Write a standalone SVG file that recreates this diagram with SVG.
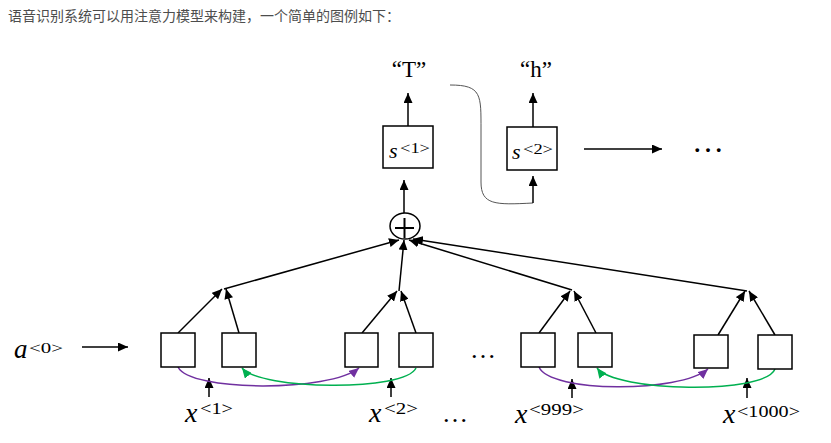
<svg xmlns="http://www.w3.org/2000/svg" width="831" height="443" viewBox="0 0 831 443">
<style>
.box{fill:#fff;stroke:#000;stroke-width:1.5}
.ar{fill:none;stroke:#000;stroke-width:1.5;marker-end:url(#ah)}
.pu{fill:none;stroke:#7030A0;stroke-width:1.5;marker-end:url(#ahp)}
.gr{fill:none;stroke:#00B050;stroke-width:1.5;marker-end:url(#ahg)}
.it{font-family:"Liberation Serif","DejaVu Serif",serif;font-style:italic;fill:#000}
.sup{font-family:"Liberation Serif","DejaVu Serif",serif;fill:#000}
.q{font-family:"Liberation Serif","DejaVu Serif",serif;font-size:23px;fill:#000;text-anchor:middle}
.dots{font-family:"Liberation Serif","DejaVu Serif",serif;fill:#000;text-anchor:middle}
</style>
<defs>
<marker id="ah" markerUnits="userSpaceOnUse" markerWidth="11" markerHeight="9" refX="10" refY="4.5" orient="auto"><path d="M0,0 L10,4.5 L0,9 z" fill="#000"/></marker>
<marker id="ahp" markerUnits="userSpaceOnUse" markerWidth="11" markerHeight="9" refX="10" refY="4.5" orient="auto"><path d="M0,0 L10,4.5 L0,9 z" fill="#7030A0"/></marker>
<marker id="ahg" markerUnits="userSpaceOnUse" markerWidth="11" markerHeight="9" refX="10" refY="4.5" orient="auto"><path d="M0,0 L10,4.5 L0,9 z" fill="#00B050"/></marker>
</defs>
<rect width="831" height="443" fill="#fff"/>
<text x="8" y="21" font-family="'Noto Sans CJK SC','Noto Sans',sans-serif" font-size="14" fill="#4d4d4d">语音识别系统可以用注意力模型来构建，一个简单的图例如下：</text>

<g id="connectors">
<line class="ar" x1="178" y1="333" x2="222" y2="289"/>
<line class="ar" x1="239" y1="333" x2="226" y2="289"/>
<line class="ar" x1="224" y1="289" x2="399" y2="240"/>
<line class="ar" x1="362" y1="333" x2="397" y2="291"/>
<line class="ar" x1="416" y1="333" x2="401" y2="291"/>
<line class="ar" x1="399" y1="291" x2="404" y2="240"/>
<line class="ar" x1="539" y1="333" x2="570" y2="291"/>
<line class="ar" x1="596" y1="333" x2="574" y2="291"/>
<line class="ar" x1="572" y1="290" x2="409" y2="240"/>
<line class="ar" x1="718" y1="335" x2="745" y2="291"/>
<line class="ar" x1="775" y1="335" x2="749" y2="291"/>
<line class="ar" x1="747" y1="291" x2="413" y2="239"/>
<line class="ar" x1="404" y1="213" x2="404" y2="180"/>
<line class="ar" x1="408" y1="126" x2="408" y2="93"/>
<line class="ar" x1="533" y1="127" x2="533" y2="93"/>
<path d="M450,85 C482,85 481,95 481,130 L481,182 C481,205 495,205 533,203" fill="none" stroke="#555" stroke-width="1"/>
<line class="ar" x1="533" y1="203" x2="533" y2="176"/>
<line class="ar" x1="584" y1="149" x2="662" y2="149"/>
<line class="ar" x1="82" y1="347" x2="128" y2="347"/>
<line class="ar" x1="209" y1="397" x2="209" y2="378"/>
<line class="ar" x1="391" y1="397" x2="391" y2="378"/>
<line class="ar" x1="572" y1="398" x2="572" y2="379"/>
<line class="ar" x1="747" y1="398" x2="747" y2="378"/>
<path class="pu" d="M178,367 C190,392 330,392 359,368"/>
<path class="gr" d="M416,368 C405,392 260,390 242,368"/>
<path class="pu" d="M539,367 C550,393 680,393 708,369"/>
<path class="gr" d="M775,369 C765,395 615,392 597,368"/>
</g>

<g id="plus">
<ellipse cx="405" cy="226" rx="15" ry="13" fill="#fff" stroke="#000" stroke-width="1.5"/>
<line x1="395" y1="228" x2="414" y2="228" stroke="#000" stroke-width="2"/>
<line x1="404.5" y1="218" x2="404.5" y2="238" stroke="#000" stroke-width="2"/>
</g>

<g id="s1">
<rect class="box" x="383" y="126" width="50" height="42"/>
<text class="it" x="389" y="158" font-size="22">s</text>
<text class="sup" x="400" y="153" font-size="14" textLength="30" lengthAdjust="spacingAndGlyphs">&lt;1&gt;</text>
</g>
<g id="s2">
<rect class="box" x="507" y="127" width="50" height="43"/>
<text class="it" x="512" y="159" font-size="22">s</text>
<text class="sup" x="523" y="154" font-size="14" textLength="30" lengthAdjust="spacingAndGlyphs">&lt;2&gt;</text>
</g>
<g id="yT"><text class="q" x="409" y="77">“T”</text></g>
<g id="yh"><text class="q" x="536" y="77">“h”</text></g>
<g id="more"><text class="dots" x="708" y="152" font-size="32">…</text></g>

<g id="a0">
<text class="it" x="14" y="358" font-size="27">a</text>
<text class="sup" x="29" y="353" font-size="15" textLength="34" lengthAdjust="spacingAndGlyphs">&lt;0&gt;</text>
</g>

<g id="b1"><rect class="box" x="161" y="333" width="34" height="34"/></g>
<g id="b2"><rect class="box" x="222" y="333" width="34" height="34"/></g>
<g id="b3"><rect class="box" x="345" y="333" width="33" height="34"/></g>
<g id="b4"><rect class="box" x="399" y="333" width="34" height="34"/></g>
<g id="b5"><rect class="box" x="521" y="333" width="34" height="34"/></g>
<g id="b6"><rect class="box" x="578" y="333" width="34" height="34"/></g>
<g id="b7"><rect class="box" x="694" y="335" width="34" height="33"/></g>
<g id="b8"><rect class="box" x="758" y="335" width="34" height="34"/></g>

<g id="midDots"><text class="dots" x="483" y="358" font-size="26">…</text></g>
<g id="lowDots"><text class="dots" x="455" y="422" font-size="26">…</text></g>

<g id="x1">
<text class="it" x="185" y="422" font-size="28">x</text>
<text class="sup" x="200" y="414" font-size="16" textLength="33" lengthAdjust="spacingAndGlyphs">&lt;1&gt;</text>
</g>
<g id="x2">
<text class="it" x="369" y="422" font-size="28">x</text>
<text class="sup" x="384" y="414" font-size="16" textLength="34" lengthAdjust="spacingAndGlyphs">&lt;2&gt;</text>
</g>
<g id="x999">
<text class="it" x="515" y="423" font-size="28">x</text>
<text class="sup" x="529" y="415" font-size="16" textLength="55" lengthAdjust="spacingAndGlyphs">&lt;999&gt;</text>
</g>
<g id="x1000">
<text class="it" x="723" y="423" font-size="28">x</text>
<text class="sup" x="737" y="417" font-size="16" textLength="63" lengthAdjust="spacingAndGlyphs">&lt;1000&gt;</text>
</g>
</svg>
